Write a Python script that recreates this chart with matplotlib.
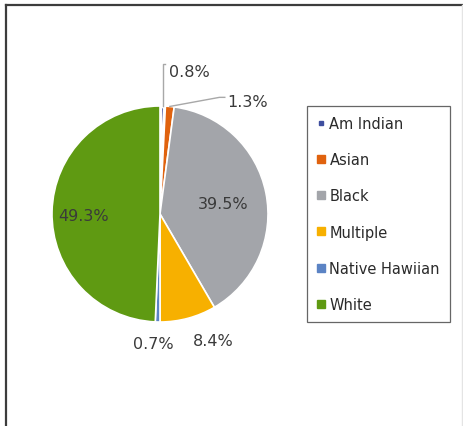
import matplotlib
matplotlib.use("Agg")
import matplotlib.pyplot as plt
from matplotlib.lines import Line2D
import numpy as np

groups = ["Am Indian", "Asian", "Black", "Multiple", "Native Hawiian", "White"]
shares = [0.8, 1.3, 39.5, 8.4, 0.7, 49.3]
colors = ["#3f4f9f", "#e0620e", "#a3a5aa", "#f7b000", "#5b83c4", "#5f9a12"]
marker_sizes = [3.5, 6, 6, 6, 6, 6]

W, H = 464, 427
fig = plt.figure(figsize=(W / 100, H / 100), dpi=100)
fig.patch.set_facecolor("white")

# outer chart frame (only top/left edges fall inside the image)
frame = dict(color="#3c3c3c", lw=1.6, transform=fig.transFigure)
fig.add_artist(Line2D([6 / W, 6 / W], [0, 1 - 6 / H], **frame))
fig.add_artist(Line2D([6 / W, 1], [1 - 6 / H, 1 - 6 / H], **frame))
fig.add_artist(Line2D([462 / W, 462 / W], [0, 1 - 6 / H], color="#e4e4e4",
                      lw=1, transform=fig.transFigure))

# pie axes: centre (160, 215) px, radius 108 px
cx, cy, r = 160, 215, 108
ax = fig.add_axes([(cx - r) / W, (H - cy - r) / H, 2 * r / W, 2 * r / H])

wedges, _ = ax.pie(shares, colors=colors, startangle=90, counterclock=False,
                   radius=1.0, wedgeprops=dict(edgecolor="white", linewidth=1.2))
ax.set_xlim(-1, 1)
ax.set_ylim(-1, 1)
ax.axis("off")
# the tiny first wedge reads as a white sliver
wedges[0].set_edgecolor("white")
wedges[0].set_linewidth(3.2)

txt = dict(fontsize=11.5, color="#3a3a3a", ha="center", va="center",
           family="DejaVu Sans")
txt_left = {k: v for k, v in txt.items() if k not in ("ha", "va")}

# wedge mid-angles (degrees, standard orientation)
cum = np.cumsum([0] + shares[:-1])
mids = [90 - (c + s / 2) * 3.6 for c, s in zip(cum, shares)]

def lbl(v):
    return f"{v:.1f}%"

# inside labels
ax.text(0.58, 0.1, lbl(shares[2]), **txt)
ax.text(-0.71, -0.01, lbl(shares[5]), **txt)

# outside labels
ax.text(0.49, -1.175, lbl(shares[3]), **txt)
ax.text(-0.06, -1.195, lbl(shares[4]), **txt)

# leader lines for the two thin slices at the top
lc = dict(color="#a8a8a8", lw=1)
a0 = np.deg2rad(mids[0])
ax.plot([np.cos(a0), np.cos(a0), 0.05], [np.sin(a0), 1.39, 1.39], **lc, clip_on=False)
ax.text(0.08, 1.32, lbl(shares[0]), ha="left", va="center", **txt_left)
a1 = np.deg2rad(mids[1])
ax.plot([np.cos(a1), 0.55, 0.60], [np.sin(a1), 1.08, 1.08], **lc, clip_on=False)
ax.text(0.62, 1.04, lbl(shares[1]), ha="left", va="center", **txt_left)

handles = [Line2D([], [], marker="s", linestyle="none", markersize=ms,
                  markerfacecolor=c, markeredgecolor=c)
           for c, ms in zip(colors, marker_sizes)]
leg = fig.legend(handles, groups, loc="center",
                 bbox_to_anchor=((307 + 450) / 2 / W, 1 - (108 + 322) / 2 / H),
                 frameon=True, fancybox=False, fontsize=10.5, labelspacing=1.45,
                 handlelength=0.6, handletextpad=0.25, borderpad=0.7,
                 borderaxespad=0)
leg.get_frame().set_edgecolor("#404040")
leg.get_frame().set_linewidth(0.9)
for t in leg.get_texts():
    t.set_color("#2a2a2a")

fig.savefig("out.png", dpi=100, facecolor="white")
